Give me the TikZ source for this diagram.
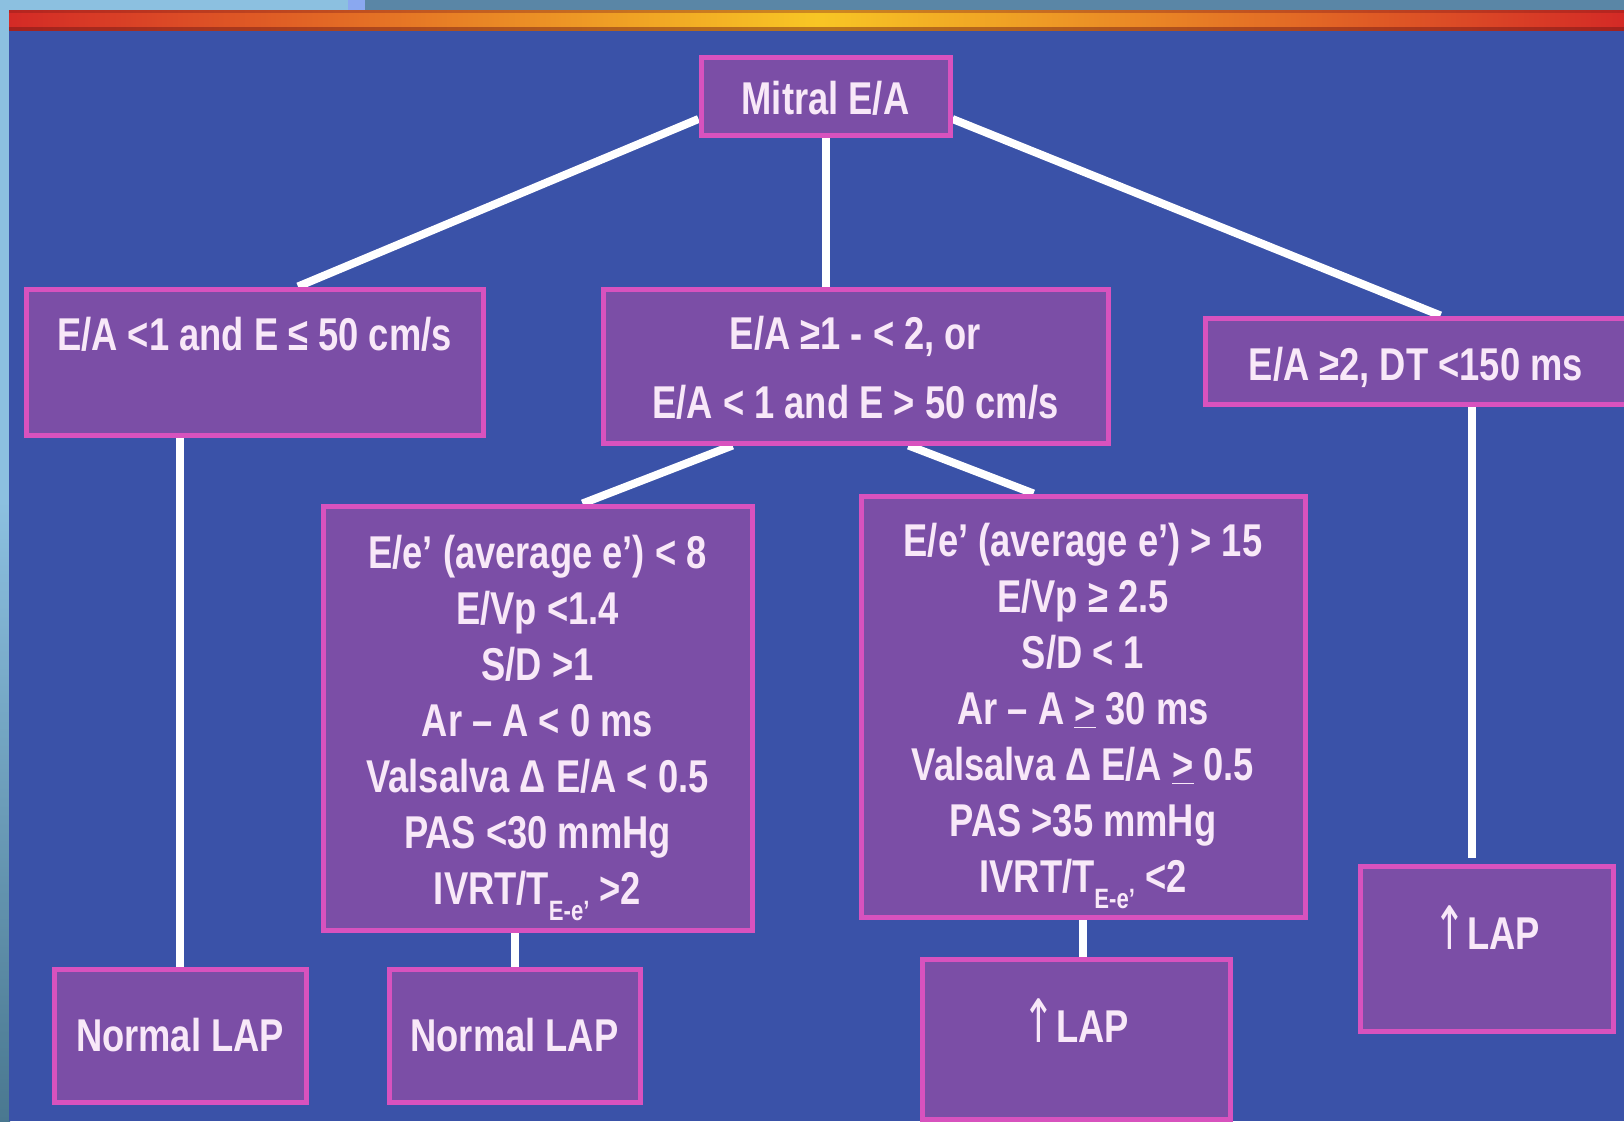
\documentclass[tikz,border=0pt]{standalone}
\usepackage{fontspec}
\setmainfont{Liberation Sans}[FakeStretch=0.79]
\newfontfamily\arrowfont{DejaVu Sans}
\usetikzlibrary{calc}
\definecolor{bgblue}{HTML}{3A52A8}
\definecolor{skyblue}{HTML}{8CC0E0}
\definecolor{steel}{HTML}{5A86A6}
\definecolor{patch}{HTML}{8AA8F0}
\definecolor{tealdark}{HTML}{4A7890}
\definecolor{stripered}{HTML}{D42A26}
\definecolor{stripeyellow}{HTML}{F8C624}
\definecolor{boxfill}{HTML}{7B4EA6}
\definecolor{boxborder}{HTML}{D852BE}
\definecolor{txt}{HTML}{F8E8F8}
\pgfdeclarelayer{bg}
\pgfdeclarelayer{wires}
\pgfsetlayers{bg,wires,main}
\newcommand{\subEe}{\raisebox{-0.35em}{\fontsize{14}{14}\selectfont E-e’}}
\newcommand{\uparr}{{\arrowfont\mdseries\scalebox{0.85}[1.3]{↑}}}
\begin{document}
\begin{tikzpicture}[x=0.5pt,y=-0.5pt,
  onebox/.style={draw=boxborder, line width=2.5pt, fill=boxfill, text=txt,
    font=\bfseries\fontsize{23}{28}\selectfont, inner sep=0pt},
  multibox/.style={onebox, align=center},
  wire/.style={draw=white, line width=4pt}]
\useasboundingbox (0,0) rectangle (1624,1121);
\begin{pgfonlayer}{bg}
  \fill[skyblue] (0,0) rectangle (1624,1121);
  \shade[top color=skyblue, bottom color=tealdark] (0,500) rectangle (10,1121);
  \fill[patch] (348,0) rectangle (365,10);
  \fill[steel] (365,0) rectangle (1624,10);
  \fill[bgblue] (9,10) rectangle (1624,1121);
  \shade[left color=stripered, right color=stripeyellow] (9,10) rectangle (817,30);
  \shade[left color=stripeyellow, right color=stripered] (816.5,10) rectangle (1624,30);
  \fill[stripered!60!black, opacity=0.35] (9,10) rectangle (1624,13);
  \fill[stripered!50!black, opacity=0.45] (9,27) rectangle (1624,31);
\end{pgfonlayer}

\node[onebox, minimum width=124.5pt, text height=28.5pt, text depth=10.5pt, anchor=base] (mitral) at (825.5,114) {Mitral E/A};
\node[onebox, minimum width=228.5pt, text height=30.5pt, text depth=42.5pt, anchor=base] (ea1) at (254.5,350) {E/A <1 and E ≤ 50 cm/s};
\node[multibox, font=\bfseries\fontsize{23}{34.5}\selectfont, minimum width=252.5pt, text height=64.75pt, text depth=12.25pt, anchor=base] (ea2) at (855.5,418.5) {E/A ≥1 - < 2, or\\E/A < 1 and E > 50 cm/s};
\node[onebox, minimum width=211pt, text height=31pt, text depth=12pt, anchor=base] (ea3) at (1416,380) {E/A ≥2, DT <150 ms};
\node[multibox, minimum width=214.5pt, text height=199.25pt, text depth=12.75pt, anchor=base] (crit1) at (537.5,904.5) {E/e’ (average e’) < 8\\E/Vp <1.4\\S/D >1\\Ar – A < 0 ms\\Valsalva Δ E/A < 0.5\\PAS <30 mmHg\\IVRT/T\subEe{} >2};
\node[multibox, minimum width=222pt, text height=198.25pt, text depth=12.25pt, anchor=base] (crit2) at (1083,892.5) {E/e’ (average e’) > 15\\E/Vp ≥ 2.5\\S/D < 1\\Ar – A \underline{>} 30 ms\\Valsalva Δ E/A \underline{>} 0.5\\PAS >35 mmHg\\IVRT/T\subEe{} <2};
\node[onebox, minimum width=126pt, minimum height=66.5pt] (nlap1) at (180,1035.5) {Normal LAP};
\node[onebox, minimum width=125.5pt, minimum height=66.5pt] (nlap2) at (514.5,1035.5) {Normal LAP};
\node[onebox, minimum width=154pt, text height=41.5pt, text depth=38.5pt, anchor=base] (lap1) at (1076,1042) {\uparr\kern0.5pt LAP};
\node[onebox, minimum width=126.5pt, text height=41.5pt, text depth=41pt, anchor=base] (lap2) at (1486.5,949) {\uparr\kern0.5pt LAP};

\begin{pgfonlayer}{wires}
  \draw[wire] ($(mitral.west)+(0,23)$) -- ($(ea1.north)+(43.5,0)$);
  \draw[wire] (mitral.south) -- (mitral.south |- ea2.north);
  \draw[wire] ($(mitral.east)+(0,23)$) -- ($(ea3.north west)+(238,0)$);
  \draw[wire] ($(ea2.south west)+(132,0)$) -- ($(crit1.north west)+(262,0)$);
  \draw[wire] ($(ea2.south west)+(308,0)$) -- ($(crit2.north west)+(175,0)$);
  \draw[wire] (ea1.south -| nlap1.north) -- (nlap1.north);
  \draw[wire] (crit1.south -| nlap2.north) -- (nlap2.north);
  \draw[wire] (crit2.south) -- (crit2.south |- lap1.north);
  \coordinate (r3) at ($(ea3.south west)+(269,0)$);
  \draw[wire] (r3) -- ($(r3 |- lap2.north)+(0,-6)$);
\end{pgfonlayer}
\end{tikzpicture}
\end{document}
